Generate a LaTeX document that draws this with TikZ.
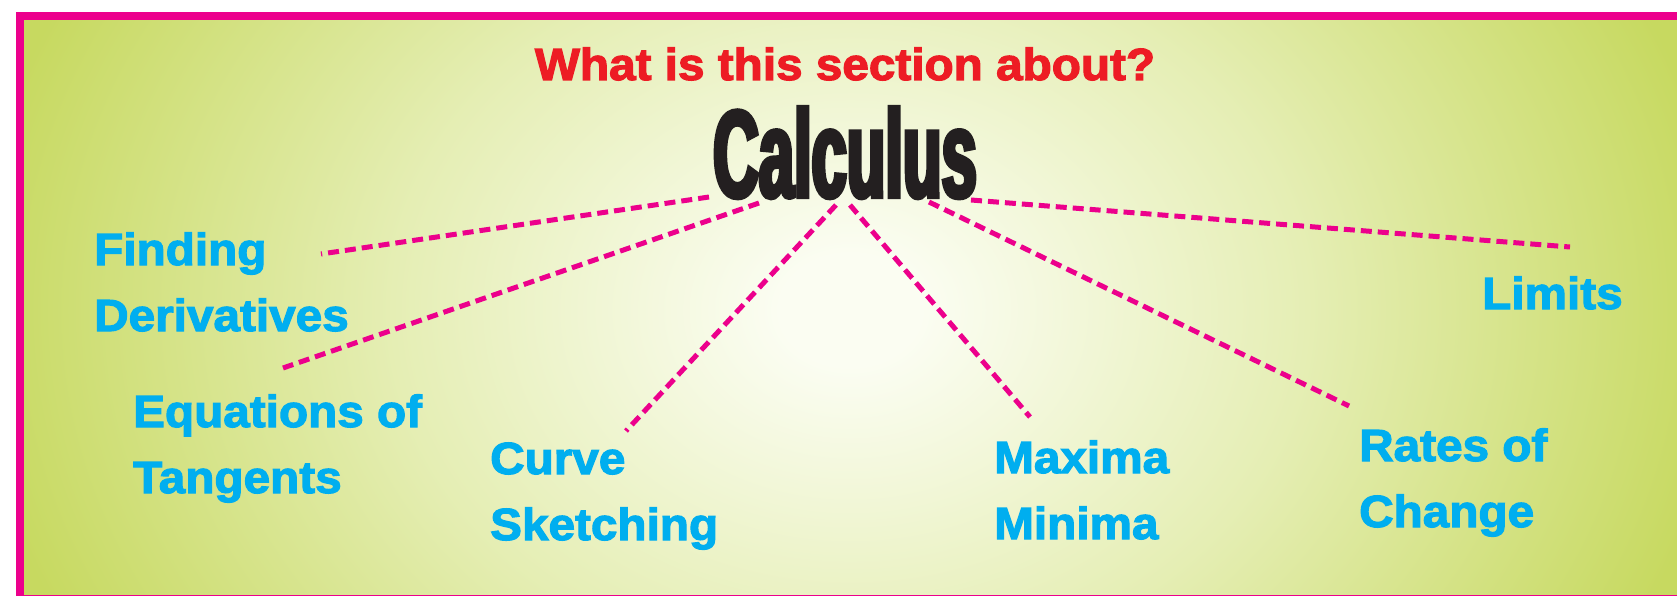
\documentclass[tikz,border=0pt]{standalone}
\usepackage{fontspec}
\usetikzlibrary{positioning}
\newfontfamily\topicfont[FakeBold=2.6, FakeStretch=1.06]{Liberation Sans Bold}
\newfontfamily\headfont[FakeBold=3.5, FakeStretch=0.51]{Liberation Sans Bold}
\definecolor{cpink}{HTML}{EC008C}
\definecolor{cblue}{HTML}{00AEEF}
\definecolor{cred}{HTML}{ED1C24}
\definecolor{cink}{HTML}{231F20}
\definecolor{bgedge}{RGB}{199,217,96}
\definecolor{bgmid}{RGB}{229,238,180}
\definecolor{bgcentre}{RGB}{251,253,242}
% the path fills the inner 50bp of the shading
\pgfdeclareradialshading{glow}{\pgfpoint{0bp}{0bp}}{color(0bp)=(bgcentre); color(2bp)=(bgcentre); color(13bp)=(bgmid); color(25bp)=(bgedge); color(50bp)=(bgedge)}
\tikzset{
  every picture/.style={x=1pt, y=-1pt},
  topic/.style={anchor=base west, inner sep=0pt, align=left, text=cblue,
    font=\topicfont\fontsize{45}{66}\selectfont},
  question/.style={anchor=base, inner sep=0pt, text=cred,
    font=\topicfont\fontsize{45}{54}\selectfont},
  head/.style={anchor=base, inner sep=0pt, text=cink,
    font=\headfont\fontsize{124}{130}\selectfont},
  link/.style={draw=cpink, line width=5pt, dash pattern=on 11pt off 6pt},
}
\begin{document}
\begin{tikzpicture}
  \useasboundingbox (0,0) rectangle (1677,596);
  % panel
  \begin{scope}
    \clip (24,20) rectangle (1677,596);
    \fill[bgedge] (24,20) rectangle (1677,596);
    \shade[shading=glow] (850,310) ellipse [x radius=880, y radius=700];
  \end{scope}
  \draw[cpink, line width=8pt] (20,599) -- (20,16) -- (1690,16) (20,599) -- (1690,599);

  \node[question] (ask) at (845,80) {What is this section about?};
  \node[head] (calc) at (845,197) {Calculus};

  % base = last line
  \node[topic] (deriv) at (94,331) {Finding\\Derivatives};
  \node[topic] (tang) at (133,493) {Equations of\\Tangents};
  \node[topic] (sketch) at (490,540) {Curve\\Sketching};
  \node[topic] (maxmin) at (994,539) {Maxima\\Minima};
  \node[topic] (rates) at (1359,527) {Rates of\\Change};
  \node[topic] (limits) at (1482,309) {Limits};

  % ends of the dashed links
  \coordinate (calc-deriv) at (709,197);
  \coordinate (calc-tang) at (759,203);
  \coordinate (calc-sketch) at (836,205);
  \coordinate (calc-maxmin) at (850,205);
  \coordinate (calc-rates) at (929,202);
  \coordinate (calc-limits) at (971,200);
  \coordinate (to-deriv) at (321,254);
  \coordinate (to-tang) at (283,368);
  \coordinate (to-sketch) at (626,431);
  \coordinate (to-maxmin) at (1030,417);
  \coordinate (to-rates) at (1349,406);
  \coordinate (to-limits) at (1570,247);

  \foreach \t in {deriv, tang, sketch, maxmin, rates, limits}
    \draw[link] (calc-\t) -- (to-\t);
\end{tikzpicture}
\end{document}
